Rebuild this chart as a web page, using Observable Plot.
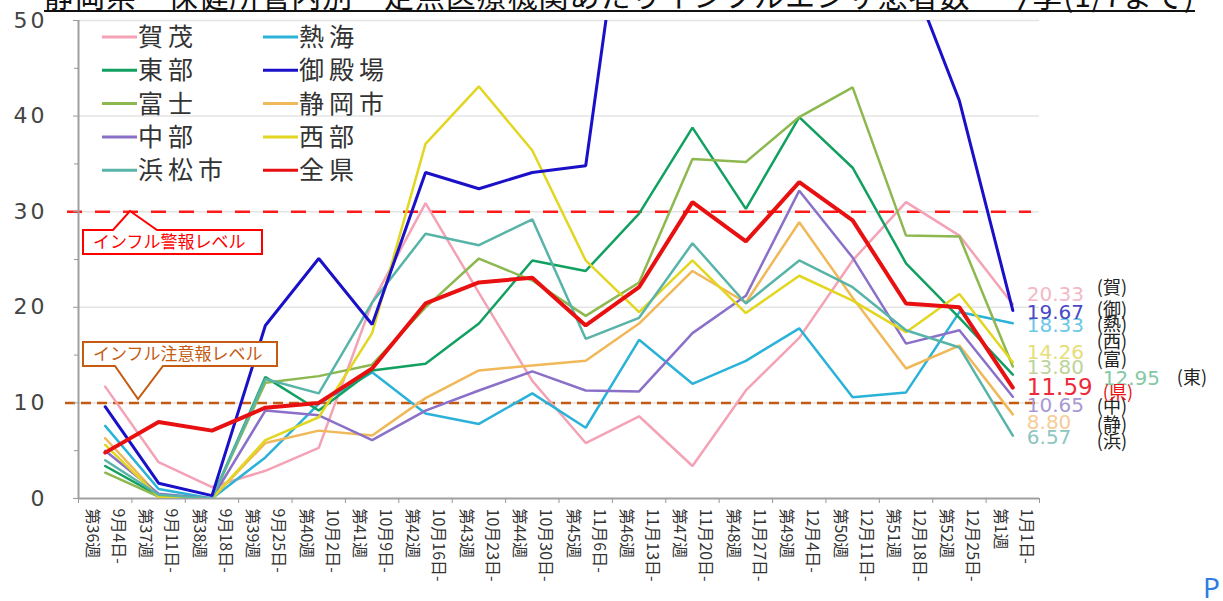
<!DOCTYPE html>
<html><head><meta charset="utf-8">
<script src="https://cdn.jsdelivr.net/npm/d3@7"></script>
<script src="https://cdn.jsdelivr.net/npm/@observablehq/plot@0.6"></script>
<style>
body{margin:0;background:#fff;}
#wrap{position:relative;width:1223px;height:601px;overflow:hidden;background:#fff;}
#overlay{position:absolute;left:0;top:0;pointer-events:none;}
g[aria-label="endnum"] text{letter-spacing:2.5px}
g[aria-label="endnum2"] text{letter-spacing:1.5px}
g[aria-label="endtag"] text{letter-spacing:1px}
g[aria-label="y-axis tick label"] text{letter-spacing:3px}
</style></head><body><div id="wrap"></div>
<script>
// ---- data ----
const weeks = ["第36週","第37週","第38週","第39週","第40週","第41週","第42週","第43週","第44週","第45週","第46週","第47週","第48週","第49週","第50週","第51週","第52週","第1週"];
const dates = ["9月4日-","9月11日-","9月18日-","9月25日-","10月2日-","10月9日-","10月16日-","10月23日-","10月30日-","11月6日-","11月13日-","11月20日-","11月27日-","12月4日-","12月11日-","12月18日-","12月25日-","1月1日-"];
const kamo        = [11.7, 3.8, 1.2, 2.9, 5.3, 20.5, 30.9, 21.5, 12.3, 5.8, 8.6, 3.4, 11.3, 16.8, 24.9, 31.0, 27.5, 20.33];
const atami       = [7.6, 1.0, 0.0, 4.3, 9.9, 13.2, 8.9, 7.8, 11.0, 7.4, 16.6, 12.0, 14.4, 17.8, 10.6, 11.1, 19.5, 18.33];
const toubu       = [3.4, 0.3, 0.0, 12.7, 9.2, 13.4, 14.1, 18.3, 24.9, 23.8, 29.8, 38.8, 30.3, 39.9, 34.6, 24.6, 18.9, 12.95];
const gotenba     = [9.6, 1.6, 0.3, 18.1, 25.1, 18.2, 34.1, 32.4, 34.1, 34.8, 75.0, 88.0, 82.0, 78.0, 68.0, 56.0, 41.6, 19.67];
const fuji        = [2.7, 0.2, 0.0, 12.1, 12.8, 14.0, 20.0, 25.1, 22.8, 19.1, 22.6, 35.5, 35.2, 39.9, 43.0, 27.5, 27.4, 13.80];
const shizuokaShi = [6.3, 0.3, 0.0, 5.8, 7.1, 6.6, 10.5, 13.4, 13.9, 14.4, 18.3, 23.8, 20.5, 28.9, 21.0, 13.6, 16.0, 8.80];
const chubu       = [5.0, 0.5, 0.0, 9.2, 8.7, 6.1, 9.2, 11.3, 13.3, 11.3, 11.2, 17.3, 21.2, 32.2, 25.2, 16.2, 17.6, 10.65];
const seibu       = [5.6, 0.2, 0.0, 6.1, 8.5, 17.3, 37.1, 43.1, 36.4, 24.9, 19.5, 24.9, 19.4, 23.3, 20.7, 17.4, 21.4, 14.26];
const hamamatsu   = [4.0, 0.4, 0.0, 12.5, 11.0, 20.5, 27.7, 26.5, 29.2, 16.7, 18.9, 26.7, 20.4, 24.9, 22.1, 17.6, 15.8, 6.57];
const zenken      = [4.8, 8.0, 7.1, 9.5, 10.0, 13.6, 20.4, 22.6, 23.1, 18.1, 22.1, 31.0, 26.9, 33.1, 29.1, 20.4, 20.0, 11.59];
const yTicks = [0, 10, 20, 30, 40, 50];
const alertLevel = 30;
const warningLevel = 10;
const titleText = "静岡県　保健所管内別　定点医療機関あたりインフルエンザ患者数　今季(1/7まで)";
const alertText = "インフル警報レベル";
const warningText = "インフル注意報レベル";

// ---- styling / layout config ----
const RED = "#e81010";
const series = [
  {name:"賀茂",  abbr:"賀", values:kamo,        color:"#f4a2b6", w:2.5, num:"#f2b8c8", ndy:-10, tdx:84, tdy:-16},
  {name:"熱海",  abbr:"熱", values:atami,       color:"#2ab2d8", w:2.5, num:"#6cc8e6", ndy:2,   tdx:84, tdy:2},
  {name:"東部",  abbr:"東", values:toubu,       color:"#11a060", w:2.5, num:"#84c8a4", ndy:4,   tdx:164, tdy:4, ndx:90},
  {name:"富士",  abbr:"富", values:fuji,        color:"#8db850", w:2.5, num:"#bcd49a", ndy:1,   tdx:84, tdy:-6},
  {name:"静岡市",abbr:"静", values:shizuokaShi, color:"#f0b858", w:2.5, num:"#f6cc98", ndy:8,   tdx:84, tdy:11},
  {name:"中部",  abbr:"中", values:chubu,       color:"#8a70c8", w:2.5, num:"#a898d4", ndy:9,   tdx:84, tdy:11},
  {name:"西部",  abbr:"西", values:seibu,       color:"#e2d620", w:2.5, num:"#e6de78", ndy:-10, tdx:84, tdy:-20},
  {name:"浜松市",abbr:"浜", values:hamamatsu,   color:"#58b4a8", w:2.5, num:"#8cc6be", ndy:2,   tdx:84, tdy:7},
  {name:"御殿場",abbr:"御", values:gotenba,     color:"#1a10c8", w:3,   num:"#4a48c4", ndy:2,   tdx:84, tdy:0},
  {name:"全県",  abbr:"県", values:zenken,      color:RED,       w:4,   num:"#f02a3a", ndy:0,   tdx:90, tdy:6, big:true}
];
const legendOrder = ["賀茂","熱海","東部","御殿場","富士","静岡市","中部","西部","浜松市","全県"];

const rows = series.flatMap(s => s.values.map((v, i) => ({name: s.name, i, v})));
const last = weeks.length - 1;
const boundaries = d3.range(-0.5, weeks.length, 1);

const JP = "Noto Sans CJK JP";
const marks = [
  Plot.gridY(yTicks.slice(1), {stroke:"#e4e4e4", strokeOpacity:1, strokeWidth:1.5}),
  Plot.ruleY([alertLevel], {stroke:"#ff1a1a", strokeWidth:2.5, strokeDasharray:"15,13", insetLeft:-11, insetRight:8}),
  Plot.ruleY([warningLevel], {stroke:"#c55a11", strokeWidth:2.5, strokeDasharray:"10,6", insetLeft:-13, insetRight:4}),
  Plot.ruleX([-0.5], {stroke:"#a0a0a0", strokeWidth:2}),
  Plot.ruleY([0], {stroke:"#a0a0a0", strokeWidth:2}),
  Plot.axisY(yTicks, {label:null, tickSize:5, tickPadding:26, fontSize:22, fill:"#444", stroke:"#999", fontFamily:"DejaVu Sans"}),
  Plot.axisY(d3.range(5, 50, 10), {label:null, tickSize:4, tickFormat:() => "", stroke:"#999"}),
  Plot.axisX(boundaries, {label:null, tickSize:5, tickFormat:() => "", stroke:"#999"}),
  Plot.text(weeks, {x:(d, i) => i, y:0, text:d => d, rotate:90, textAnchor:"start", lineAnchor:"middle", dx:-13, dy:10, fontSize:16, fill:"#333", fontFamily:JP}),
  Plot.text(dates, {x:(d, i) => i, y:0, text:d => d, rotate:90, textAnchor:"start", lineAnchor:"middle", dx:13, dy:10, fontSize:16, fill:"#333", fontFamily:JP})
];
for (const s of series) {
  marks.push(Plot.line(rows.filter(r => r.name === s.name), {x:"i", y:"v", stroke:s.color, strokeWidth:s.w, clip:true, strokeLinejoin:"miter"}));
}
for (const s of series) {
  const end = rows.filter(r => r.name === s.name && r.i === last);
  marks.push(Plot.text(end, {x:"i", y:"v", text:d => d.v.toFixed(2), dx:s.ndx ?? 14, dy:s.ndy, textAnchor:"start",
    fill:s.num, fontSize:s.big ? 23 : 20, fontFamily:"DejaVu Sans", ariaLabel:s.big ? "endnum2" : "endnum"}));
  marks.push(Plot.text(end, {x:"i", y:"v", text:() => `(${s.abbr})`, dx:s.tdx, dy:s.tdy, textAnchor:"start",
    fill:s.big ? RED : "#222", fontSize:18, fontFamily:JP, ariaLabel:"endtag"}));
}

const chart = Plot.plot({
  width:1223, height:601,
  marginLeft:78, marginRight:184, marginTop:20, marginBottom:103,
  x:{type:"linear", domain:[-0.5, weeks.length - 0.5], axis:null},
  y:{domain:[0, 50], axis:null},
  style:{fontFamily:"DejaVu Sans", background:"#fff", overflow:"visible"},
  marks
});
const wrap = document.getElementById("wrap");
wrap.appendChild(chart);

// ---- overlay: title, legend, annotations ----
const colorOf = Object.fromEntries(series.map(s => [s.name, s.color]));
let legend = "";
legendOrder.forEach((n, k) => {
  const col = k % 2, row = Math.floor(k / 2);
  const x = col === 0 ? 102 : 263, y = 37 + row * 33.3;
  legend += `<line x1="${x}" x2="${x+35}" y1="${y}" y2="${y}" stroke="${colorOf[n]}" stroke-width="3"/>`;
  legend += `<text x="${x+36}" y="${y}" dy="0.36em" font-size="25" letter-spacing="5" fill="#333" font-family="${JP}">${n}</text>`;
});
const ov = `
<svg id="overlay" width="1223" height="601" xmlns="http://www.w3.org/2000/svg">
  <text x="44" y="7" font-size="30" font-family="${JP}" fill="#111" textLength="1150" lengthAdjust="spacing">${titleText}</text>
  <line x1="44" x2="1195" y1="11" y2="11" stroke="#111" stroke-width="2"/>
  ${legend}
  <path d="M83,230 L113,230 L130,211 L157,230 L262,230 L262,254 L83,254 Z" fill="#fff" stroke="#ff0000" stroke-width="2"/>
  <text x="93" y="242" dy="0.36em" font-size="17" fill="#ff0000" font-family="${JP}">${alertText}</text>
  <path d="M83,342 L277,342 L277,366 L163,366 L138,399 L115,366 L83,366 Z" fill="#fff" stroke="#c55a11" stroke-width="2"/>
  <text x="93" y="354" dy="0.36em" font-size="17" fill="#c55a11" font-family="${JP}">${warningText}</text>
  <text x="1203" y="598" font-size="28" fill="#2f7de1" font-family="Noto Sans">P</text>
</svg>`;
wrap.insertAdjacentHTML("beforeend", ov);
</script></body></html>
